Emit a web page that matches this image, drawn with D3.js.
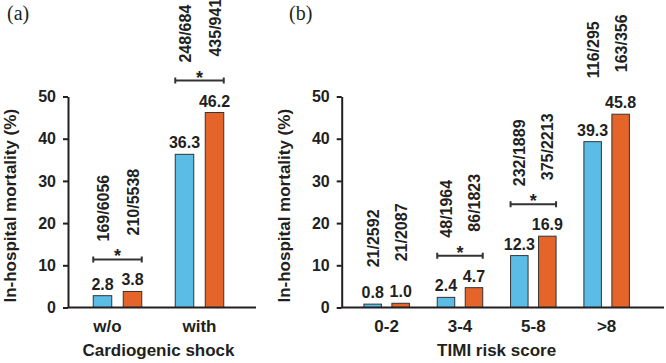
<!DOCTYPE html>
<html>
<head>
<meta charset="utf-8">
<script src="https://cdn.jsdelivr.net/npm/d3@7"></script>
<style>
  html, body { margin: 0; padding: 0; background: #fff; }
  svg { display: block; font-family: 'Liberation Sans', Arial, sans-serif; }
</style>
</head>
<body>
<svg id="chart"></svg>
<script>
// panel (a): cardiogenic shock
const shockCats = ['w/o', 'with'];
const shockBlue = [2.8, 36.3];
const shockOrange = [3.8, 46.2];
const shockBlueN = ['169/6056', '248/684'];
const shockOrangeN = ['210/5538', '435/941'];
const shockSig = [true, true];

// panel (b): TIMI risk score
const timiCats = ['0-2', '3-4', '5-8', '>8'];
const timiBlue = [0.8, 2.4, 12.3, 39.3];
const timiOrange = [1.0, 4.7, 16.9, 45.8];
const timiBlueN = ['21/2592', '48/1964', '232/1889', '116/295'];
const timiOrangeN = ['21/2087', '86/1823', '375/2213', '163/356'];
const timiSig = [false, true, true, false];

const yTicks = [0, 10, 20, 30, 40, 50];

const W = 666, H = 363;
const blue = '#5bbde6', orange = '#e5642a', ink = '#231f20';

const svg = d3.select('#chart').attr('width', W).attr('height', H);

// shared y scale
const y = d3.scaleLinear().domain([0, 50]).range([307.5, 96.5]);

function drawPanel(opt) {
  const g = svg.append('g');
  const groups = opt.cats.map((c, i) => ({
    cat: c,
    vals: [
      { s: 'blue', v: opt.blue[i], n: opt.blueN[i] },
      { s: 'orange', v: opt.orange[i], n: opt.orangeN[i] }
    ],
    sig: opt.sig[i]
  }));

  const x = d3.scaleBand().domain(opt.cats).range(opt.range);
  const half = (opt.dist + opt.bw) / 2;
  const xs = d3.scaleBand().domain(['blue', 'orange'])
    .range([-half, half])
    .paddingInner(1 - opt.bw / opt.dist);
  const cx = d => x(d) + x.bandwidth() / 2;

  // bars
  const gg = g.selectAll('.grp').data(groups).join('g')
    .attr('transform', d => `translate(${cx(d.cat)},0)`);

  gg.selectAll('rect').data(d => d.vals).join('rect')
    .attr('x', d => xs(d.s))
    .attr('width', xs.bandwidth())
    .attr('y', d => y(d.v))
    .attr('height', d => y(0) - y(d.v))
    .attr('fill', d => d.s === 'blue' ? blue : orange)
    .attr('stroke', '#333')
    .attr('stroke-width', 1);

  // value labels
  gg.selectAll('.val').data(d => d.vals).join('text')
    .attr('class', 'val')
    .attr('x', d => xs(d.s) + xs.bandwidth() / 2)
    .attr('y', d => y(d.v) - 6)
    .attr('text-anchor', 'middle')
    .style('font-size', '16px')
    .style('font-weight', 'bold')
    .attr('fill', ink)
    .text(d => d3.format('.1f')(d.v));

  // significance bracket + star, fraction labels above
  gg.each(function (d) {
    const sel = d3.select(this);
    const top = y(d3.max(d.vals, v => v.v));
    let anchor;
    if (d.sig) {
      const by = top - 32;
      const x0 = xs('blue'), x1 = xs('orange') + xs.bandwidth();
      sel.append('path')
        .attr('d', `M${x0},${by - 3}V${by + 3}M${x0},${by}H${x1}M${x1},${by - 3}V${by + 3}`)
        .attr('fill', 'none')
        .attr('stroke', '#333')
        .attr('stroke-width', 2);
      sel.append('text')
        .attr('x', 0)
        .attr('y', by + 3)
        .attr('text-anchor', 'middle')
        .style('font-size', '18px')
        .style('font-weight', 'bold')
        .attr('fill', ink)
        .text('*');
      anchor = by;
    } else {
      anchor = top - 6 - 12;
    }
    sel.selectAll('.frac').data(d.vals).join('text')
      .attr('class', 'frac')
      .attr('transform', (v, i) => {
        const tx = xs(v.s) + xs.bandwidth() / 2 + 6;
        const ty = anchor - 18 - i * 6;
        return `translate(${tx},${ty}) rotate(-90)`;
      })
      .style('font-size', '16px')
      .style('font-weight', 'bold')
      .attr('fill', ink)
      .text(v => v.n);
  });

  // y axis
  const ya = g.append('g')
    .attr('transform', `translate(${opt.axisX},0)`)
    .call(d3.axisLeft(y).tickValues(yTicks).tickSize(5).tickPadding(7).tickSizeOuter(0));
  ya.select('.domain').attr('stroke', ink).attr('stroke-width', 2);
  ya.selectAll('.tick line').attr('stroke', ink).attr('stroke-width', 2);
  ya.selectAll('.tick text')
    .attr('fill', ink)
    .style('font-size', '16px')
    .style('font-weight', 'bold')
    .style('font-family', "'Liberation Sans', Arial, sans-serif");

  // x axis line
  g.append('line')
    .attr('x1', opt.axisX).attr('x2', opt.axisEnd)
    .attr('y1', y(0)).attr('y2', y(0))
    .attr('stroke', ink).attr('stroke-width', 2);

  // category labels
  g.selectAll('.cat').data(opt.cats).join('text')
    .attr('class', 'cat')
    .attr('x', d => cx(d) + (d === 'w/o' ? -10 : 0))
    .attr('y', 332)
    .attr('text-anchor', 'middle')
    .style('font-size', '17px')
    .style('font-weight', 'bold')
    .attr('fill', ink)
    .text(d => d);

  // x title
  g.append('text')
    .attr('x', (opt.range[0] + opt.range[1]) / 2)
    .attr('y', 356)
    .attr('text-anchor', 'middle')
    .style('font-size', '17px')
    .style('font-weight', 'bold')
    .attr('fill', ink)
    .text(opt.xTitle);

  // y title
  g.append('text')
    .attr('transform', `translate(${opt.axisX - 52},${(y(0) + 100) / 2 + 2}) rotate(-90)`)
    .attr('text-anchor', 'middle')
    .style('font-size', '17px')
    .style('font-weight', 'bold')
    .attr('fill', ink)
    .text('In-hospital mortality (%)');

  // panel letter
  g.append('text')
    .attr('x', opt.letterX)
    .attr('y', 20)
    .style('font-family', "'Liberation Serif', 'Times New Roman', serif")
    .style('font-size', '20px')
    .attr('fill', ink)
    .text(opt.letter);
}

drawPanel({
  cats: shockCats, blue: shockBlue, orange: shockOrange,
  blueN: shockBlueN, orangeN: shockOrangeN, sig: shockSig,
  range: [76.5, 240.5], dist: 30, bw: 18.5,
  axisX: 68, axisEnd: 256,
  xTitle: 'Cardiogenic shock', letter: '(a)', letterX: 7
});

drawPanel({
  cats: timiCats, blue: timiBlue, orange: timiOrange,
  blueN: timiBlueN, orangeN: timiOrangeN, sig: timiSig,
  range: [350, 643.3], dist: 28, bw: 17.5,
  axisX: 341.7, axisEnd: 664,
  xTitle: 'TIMI risk score', letter: '(b)', letterX: 289
});
</script>
</body>
</html>
